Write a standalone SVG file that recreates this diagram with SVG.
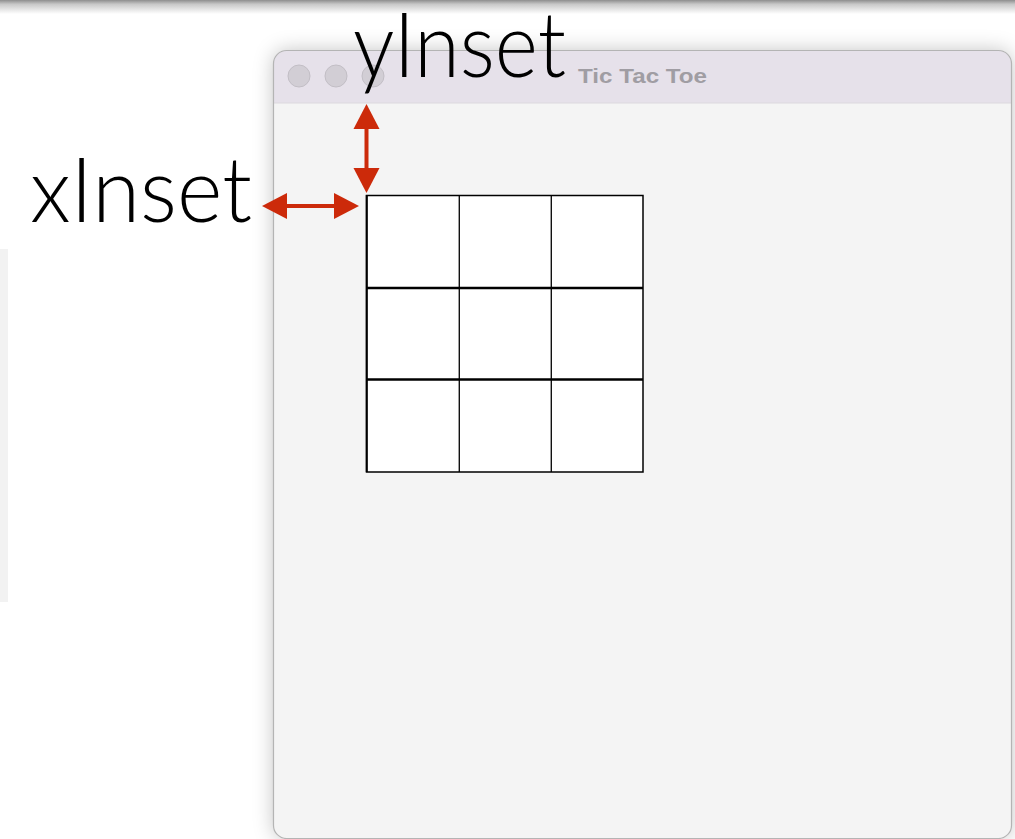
<svg xmlns="http://www.w3.org/2000/svg" width="1015" height="839" viewBox="0 0 1015 839">
  <style>
    .label { font-family: Lato, "Open Sans", "Liberation Sans", sans-serif; font-weight: 300; font-size: 90px; fill: #000; }
    .title { font-family: "Liberation Sans", Arial, sans-serif; font-weight: bold; font-size: 20px; fill: #a09da3; }
    .light { fill: #d2ced5; stroke: #c2bec5; stroke-width: 1; }
    .cell { fill: #ffffff; }
    .vline { stroke: #111; stroke-width: 1.4; }
    .hline { stroke: #000; stroke-width: 2.4; }
    .arrow { stroke: #cc2a0a; stroke-width: 4; fill: none; }
    .head { fill: #cc2a0a; }
  </style>
  <defs>
    <linearGradient id="topShade" x1="0" y1="0" x2="0" y2="1">
      <stop offset="0" stop-color="#8e8e8e"/>
      <stop offset="0.3" stop-color="#c8c8c8"/>
      <stop offset="1" stop-color="#ffffff"/>
    </linearGradient>
    <filter id="shadow" x="-10%" y="-10%" width="120%" height="120%">
      <feDropShadow dx="0" dy="0" stdDeviation="10" flood-color="#000" flood-opacity="0.24"/>
    </filter>
    <clipPath id="winClip">
      <rect x="273.5" y="50.5" width="738" height="788" rx="13"/>
    </clipPath>
  </defs>

  <rect x="0" y="0" width="1015" height="839" fill="#ffffff"/>
  <rect x="0" y="0" width="1015" height="14" fill="url(#topShade)"/>
  <rect x="0" y="249" width="8" height="353" fill="#f2f2f2"/>

  <g id="window">
    <rect x="273.5" y="50.5" width="738" height="788" rx="13" fill="#f4f4f4" filter="url(#shadow)"/>
    <g clip-path="url(#winClip)">
      <rect x="273" y="50" width="740" height="53" fill="#e6e1ea"/>
      <line x1="273" y1="103" x2="1013" y2="103" stroke="#dcd8de" stroke-width="1"/>
    </g>
    <rect x="273.5" y="50.5" width="738" height="788" rx="13" fill="none" stroke="#b4b4b4" stroke-width="1.2"/>
    <circle class="light" cx="299" cy="76" r="11"/>
    <circle class="light" cx="336" cy="76" r="11"/>
    <circle class="light" cx="373" cy="76" r="11"/>
    <text class="title" x="578" y="83" textLength="129" lengthAdjust="spacingAndGlyphs">Tic Tac Toe</text>
  </g>

  <g id="board">
    <rect class="cell" x="366" y="195" width="277" height="277"/>
    <line class="vline" x1="459.3" y1="195" x2="459.3" y2="472"/>
    <line class="vline" x1="551.3" y1="195" x2="551.3" y2="472"/>
    <line class="hline" x1="366" y1="288" x2="643" y2="288"/>
    <line class="hline" x1="366" y1="379.5" x2="643" y2="379.5"/>
    <rect x="366.5" y="195.5" width="276.5" height="276.5" fill="none" stroke="#000" stroke-width="1.5"/>
    <line x1="366.8" y1="195" x2="366.8" y2="472" stroke="#000" stroke-width="2"/>
  </g>

  <g id="connectors">
    <g id="yInsetArrow">
      <line class="arrow" x1="366.5" y1="125" x2="366.5" y2="172"/>
      <polygon class="head" points="366.5,104 353.5,129 379.5,129"/>
      <polygon class="head" points="366.5,193 353.5,168 379.5,168"/>
    </g>
    <g id="xInsetArrow">
      <line class="arrow" x1="284" y1="206" x2="336" y2="206"/>
      <polygon class="head" points="262,206 287,193 287,219"/>
      <polygon class="head" points="359,206 334,193 334,219"/>
    </g>
  </g>

  <g id="xInsetLabel">
    <text class="label" x="30" y="222" textLength="222" lengthAdjust="spacingAndGlyphs">xInset</text>
  </g>
  <g id="yInsetLabel">
    <text class="label" x="353" y="77" textLength="213" lengthAdjust="spacingAndGlyphs">yInset</text>
  </g>
</svg>
